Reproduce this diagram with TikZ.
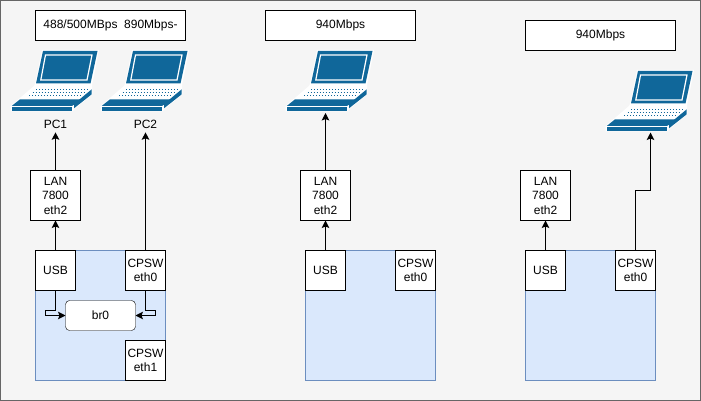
\documentclass[tikz,border=0pt]{standalone}
\usepackage{fontspec}
\setmainfont{Liberation Sans}
\usetikzlibrary{arrows.meta}
\definecolor{lapblue}{HTML}{10679A}
\definecolor{socfill}{HTML}{DAE8FC}
\definecolor{socline}{HTML}{6C8EBF}
\begin{document}
\begin{tikzpicture}[x=1pt,y=-1pt,font=\fontsize{12}{14.5}\selectfont,align=center,
  box/.style={draw,fill=white,outer sep=0pt,inner sep=0pt,minimum width=40pt,minimum height=40pt},
  lan/.style={box,minimum width=50pt,minimum height=50pt},
  rate/.style={box,minimum width=150pt,minimum height=30pt},
  soc/.style={draw=socline,fill=socfill,outer sep=0pt,minimum width=130pt,minimum height=130pt},
  lnk/.style={-{Stealth[length=7.5pt,width=7.5pt,inset=1.5pt]},line width=1pt},
  laptop/.pic={
    \fill[white] (42,50)--(99,50)--(92,85)--(92.5,94)--(74,109.5)--(72.5,111.5)--(10.5,111.5)--(10.5,106)--(34,86)--(35,84)--cycle;
    \fill[lapblue] (43,51)--(97.5,51)--(90.5,83.5)--(36,83.5)--cycle;
    \draw[white,line width=1.2pt] (45.5,55)--(92,55)--(87,80)--(40.8,80)--cycle;
    \foreach \yy/\xx in {89.5/36,92.5/32.5,95.5/29}
      \draw[lapblue,line width=0.9pt,dash pattern=on 1pt off 2pt] (\xx,\yy)--++(53,0);
    \fill[lapblue] (20,99.3)--(81.5,99.3)--(72,106)--(11.7,106)--cycle;
    \fill[lapblue] (11.7,107.3)--(71.7,107.3)--(71.7,110.7)--(11.7,110.7)--cycle;
    \fill[lapblue] (91.7,89.3)--(91.7,94.3)--(74,108.3)--(74,104)--cycle;
  }]
  \useasboundingbox (0,0) rectangle (701,401);
  \filldraw[draw=black!60,fill=black!4,line width=1pt] (0.5,0.5) rectangle (700.5,400.5);
  % first setup: bridged ports
  \node[rate] (rate1) at (110.5,25.5){488/500MBps\ \ 890Mbps-};
  \pic at (0,0) {laptop};
  \pic at (90,0) {laptop};
  \node (pc1) at (55.5,124.5){PC1};
  \node (pc2) at (145.5,124.5){PC2};
  \node[lan] (lan1) at (55.5,195.5){LAN\\7800\\eth2};
  \node[soc] (soc1) at (100.5,315.5){};
  \node[box] (usb1) at (55.5,270.5){USB};
  \node[box] (cpsw1) at (145.5,270.5){CPSW\\eth0};
  \node[box] (cpswb) at (145.5,360.5){CPSW\\eth1};
  \node[box,minimum width=70pt,minimum height=30pt,rounded corners=4pt] (br0) at (100.5,315.5){br0};
  \draw[lnk] (usb1.north)--(lan1.south);
  \draw[lnk] (lan1.north)--(pc1.south);
  \draw[lnk] (cpsw1.north)--(pc2.south);
  \draw[lnk] (usb1.south)--++(0,20)--++(-10,0)--++(0,5)--(br0.west);
  \draw[lnk] (cpsw1.south)--++(0,20)--++(10,0)--++(0,5)--(br0.east);
  % second setup: USB path only
  \node[rate] (rate2) at (340.5,25.5){940Mbps};
  \pic at (275,0) {laptop};
  \coordinate (lap2) at (325.5,113);
  \node[lan] (lan2) at (325.5,195.5){LAN\\7800\\eth2};
  \node[soc] (soc2) at (370.5,315.5){};
  \node[box] (usb2) at (325.5,270.5){USB};
  \node[box] (cpsw2) at (415.5,270.5){CPSW\\eth0};
  \draw[lnk] (usb2.north)--(lan2.south);
  \draw[lnk] (lan2.north)--(lap2);
  % third setup: CPSW path only
  \node[rate] (rate3) at (600.5,35.5){940Mbps};
  \pic at (595,20) {laptop};
  \coordinate (lap3) at (650.5,132.5);
  \node[lan] (lan3) at (545.5,195.5){LAN\\7800\\eth2};
  \node[soc] (soc3) at (590.5,315.5){};
  \node[box] (usb3) at (545.5,270.5){USB};
  \node[box] (cpsw3) at (635.5,270.5){CPSW\\eth0};
  \draw[lnk] (usb3.north)--(lan3.south);
  \draw[lnk] (cpsw3.north)--(635.5,190.5)-|(lap3);
\end{tikzpicture}
\end{document}
